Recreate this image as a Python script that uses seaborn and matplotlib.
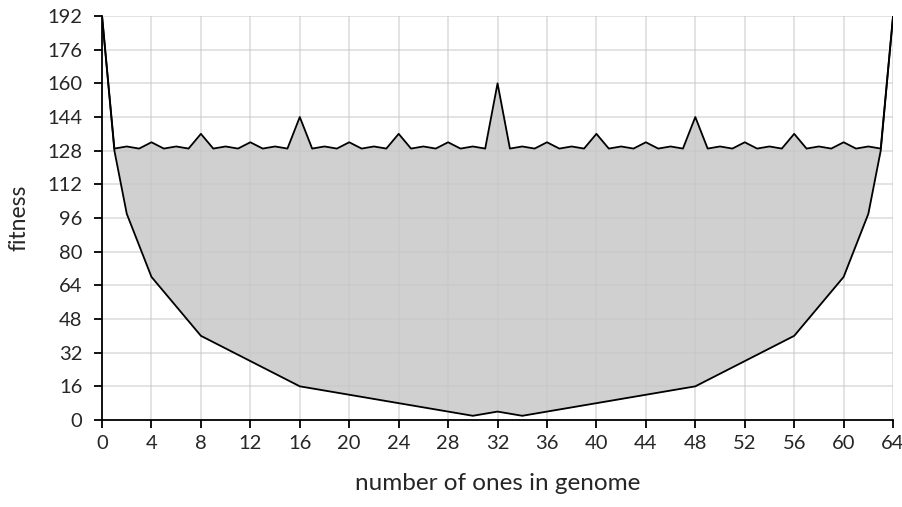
import numpy as np
import pandas as pd
import matplotlib
matplotlib.use("Agg")
import matplotlib.pyplot as plt
import seaborn as sns

# upper curve: fitness at every count of ones 0..64
ones_upper = list(range(0, 65))
fit_upper = [192, 129, 130, 129, 132, 129, 130, 129, 136, 129, 130, 129, 132, 129, 130, 129,
             144, 129, 130, 129, 132, 129, 130, 129, 136, 129, 130, 129, 132, 129, 130, 129,
             160, 129, 130, 129, 132, 129, 130, 129, 136, 129, 130, 129, 132, 129, 130, 129,
             144, 129, 130, 129, 132, 129, 130, 129, 136, 129, 130, 129, 132, 129, 130, 129,
             192]

# lower curve: only a few break points
ones_lower = [0, 1, 2, 4, 8, 16, 30, 32, 34, 48, 56, 60, 62, 63, 64]
fit_lower = [192, 128, 98, 68, 40, 16, 2, 4, 2, 16, 40, 68, 98, 128, 192]

upper = pd.DataFrame({"ones": ones_upper, "fitness": fit_upper})
lower = pd.DataFrame({"ones": ones_lower, "fitness": fit_lower})

sns.set_style("white")
plt.rcParams['font.family'] = ['Lato', 'DejaVu Sans']

fig = plt.figure(figsize=(9.03, 5.07), dpi=100)
ax = fig.add_axes([0.113, 0.1716, 0.876, 0.7968])

# fill between the two curves on the common grid
low_interp = np.interp(ones_upper, ones_lower, fit_lower)
ax.fill_between(ones_upper, low_interp, fit_upper, color="#d0d0d0", lw=0, zorder=1)

sns.lineplot(data=upper, x="ones", y="fitness", ax=ax, color="black", lw=1.3, zorder=3)
sns.lineplot(data=lower, x="ones", y="fitness", ax=ax, color="black", lw=1.3, zorder=3)

ax.set_xlim(0, 64)
ax.set_ylim(0, 192)
ax.set_xticks(range(0, 65, 4))
ax.set_yticks(range(0, 193, 16))
ax.grid(True, color="#c8c8c8", alpha=0.6, lw=1.2, zorder=2)
ax.set_axisbelow(False)

for s in ["top", "right"]:
    ax.spines[s].set_visible(False)
for s in ["left", "bottom"]:
    ax.spines[s].set_color("black")
    ax.spines[s].set_linewidth(1.3)
    ax.spines[s].set_zorder(4)

ax.tick_params(axis="both", direction="out", length=6, width=1.3, color="black",
               labelsize=14.5, bottom=True, left=True)
ax.tick_params(axis="x", pad=5)
ax.tick_params(axis="y", pad=8)
ax.set_xlabel("number of ones in genome", fontsize=17.5, labelpad=15)
ax.set_ylabel("fitness", fontsize=16.5, labelpad=13)

fig.savefig("out.png", dpi=100)
